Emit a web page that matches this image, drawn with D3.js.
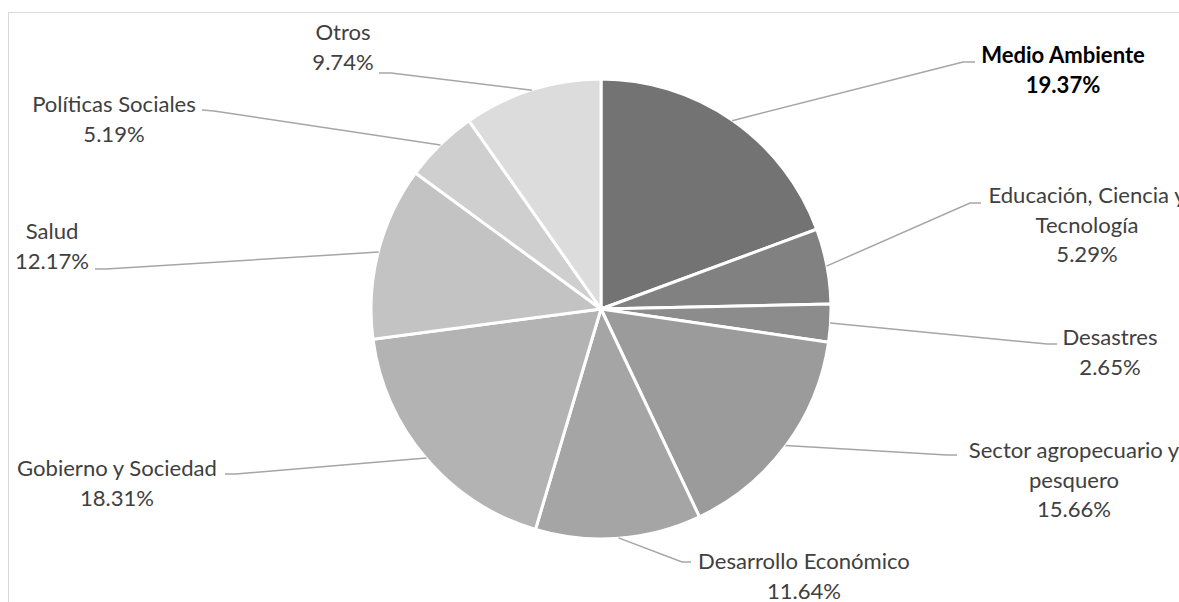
<!DOCTYPE html>
<html>
<head>
<meta charset="utf-8">
<script src="https://cdn.jsdelivr.net/npm/d3@7"></script>
<style>
  html, body { margin: 0; padding: 0; background: #fff; overflow: hidden; }
  svg { display: block; }
</style>
</head>
<body>
<svg id="chart" width="1179" height="602"></svg>
<script>
// ---- data ----
const categories = [
  "Medio Ambiente",
  "Educación, Ciencia y Tecnología",
  "Desastres",
  "Sector agropecuario y pesquero",
  "Desarrollo Económico",
  "Gobierno y Sociedad",
  "Salud",
  "Políticas Sociales",
  "Otros"
];
const values = [19.37, 5.29, 2.65, 15.66, 11.64, 18.31, 12.17, 5.19, 9.74];
const labelLines = [
  ["Medio Ambiente"],
  ["Educación, Ciencia y", "Tecnología"],
  ["Desastres"],
  ["Sector agropecuario y", "pesquero"],
  ["Desarrollo Económico"],
  ["Gobierno y Sociedad"],
  ["Salud"],
  ["Políticas Sociales"],
  ["Otros"]
];

// ---- styling / layout (not data) ----
const colors = ["#737373", "#818181", "#8c8c8c", "#9b9b9b", "#a5a5a5", "#b3b3b3", "#c3c3c3", "#cfcfcf", "#dcdcdc"];
const boldIdx = 0;
// label layout: text center x, first baseline y, elbow point, end of horizontal tail
const labelLayout = [
  { cx: 1063, by: 63,  elbow: [963, 62],  tail: [975, 62] },
  { cx: 1087, by: 203, elbow: [970, 203], tail: [981, 203] },
  { cx: 1110, by: 345, elbow: [1047, 344], tail: [1057, 344] },
  { cx: 1074, by: 458, elbow: [947, 455], tail: [957, 455] },
  { cx: 804,  by: 569, elbow: [682, 562], tail: [691, 562] },
  { cx: 117,  by: 476, elbow: [236, 474], tail: [225, 474] },
  { cx: 52,   by: 239, elbow: [106, 269], tail: [95, 269] },
  { cx: 114,  by: 112, elbow: [214, 111], tail: [202, 110] },
  { cx: 343,  by: 40,  elbow: [391, 73],  tail: [379, 73] }
];
const lineHeight = 29.5;
const cx = 601, cy = 309, R = 230;
const fontFamily = "Lato, 'Open Sans', sans-serif";

const svg = d3.select("#chart");

// chart area border (extends beyond the viewport on right/bottom)
svg.append("rect")
  .attr("x", 8.5).attr("y", 12.5)
  .attr("width", 1300).attr("height", 700)
  .attr("fill", "none")
  .attr("stroke", "#d9d9d9")
  .attr("stroke-width", 1);

// font size calibrated so "Desarrollo Económico" is ~212px wide (as in reference)
const probe = svg.append("text").attr("font-family", fontFamily).attr("font-size", 24).text("Desarrollo Económico");
const probeW = probe.node().getComputedTextLength();
probe.remove();
const fontSize = 24 * 212 / probeW;

const pie = d3.pie().sort(null).value(d => d)(values);
const arc = d3.arc().innerRadius(0).outerRadius(R);

const g = svg.append("g").attr("transform", `translate(${cx},${cy})`);

g.selectAll("path.slice")
  .data(pie)
  .join("path")
  .attr("class", "slice")
  .attr("d", arc)
  .attr("fill", (d, i) => colors[i])
  .attr("stroke", "#fff")
  .attr("stroke-width", 3)
  .attr("stroke-linejoin", "round");

// leader lines
const fmt = d3.format(".2f");
pie.forEach((d, i) => {
  const a = (d.startAngle + d.endAngle) / 2;
  const r0 = R - 0.5;
  const sx = cx + r0 * Math.sin(a);
  const sy = cy - r0 * Math.cos(a);
  const L = labelLayout[i];
  svg.append("path")
    .attr("d", d3.line()([[sx, sy], L.elbow, L.tail]))
    .attr("fill", "none")
    .attr("stroke", "#a6a6a6")
    .attr("stroke-width", 1.5);
});

// labels
pie.forEach((d, i) => {
  const L = labelLayout[i];
  const lines = labelLines[i].concat([fmt(values[i]) + "%"]);
  const t = svg.append("text")
    .attr("font-family", fontFamily)
    .attr("font-size", fontSize)
    .attr("font-weight", i === boldIdx ? "bold" : "normal")
    .attr("fill", i === boldIdx ? "#000" : "#404040")
    .attr("text-anchor", "middle");
  lines.forEach((ln, k) => {
    t.append("tspan")
      .attr("x", L.cx)
      .attr("y", L.by + k * lineHeight)
      .text(ln);
  });
});
</script>
</body>
</html>
